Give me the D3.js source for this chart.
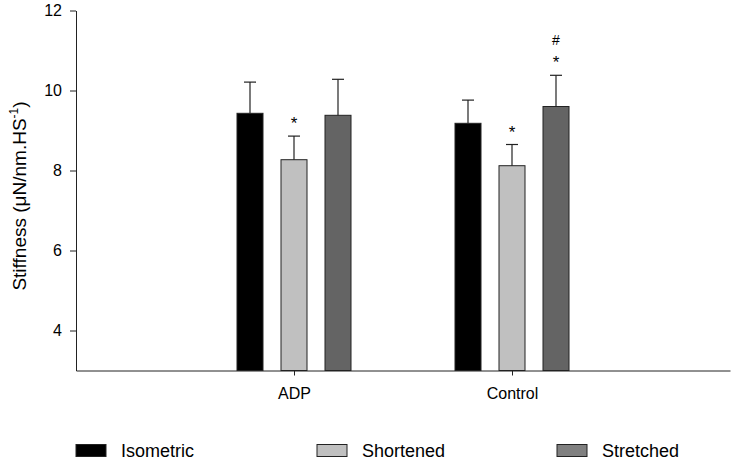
<!DOCTYPE html>
<html>
<head>
<meta charset="utf-8">
<script src="https://cdn.jsdelivr.net/npm/d3@7"></script>
<style>
  body { margin: 0; background: #fff; }
  text { font-family: "Liberation Sans", Arial, sans-serif; }
</style>
</head>
<body>
<script>
// chart size
let w = 735;
let h = 462;

// data
let groups = ["ADP", "Control"];
let series = ["Isometric", "Shortened", "Stretched"];
let adpMeans = [9.43, 8.27, 9.38];
let adpErrors = [0.78, 0.59, 0.9];
let controlMeans = [9.18, 8.12, 9.6];
let controlErrors = [0.58, 0.53, 0.78];
let yTicks = [4, 6, 8, 10, 12];
// significance marks: [group, series, symbols bottom-up]
let marks = [
    ["ADP", "Shortened", ["*"]],
    ["Control", "Shortened", ["*"]],
    ["Control", "Stretched", ["*", "#"]]
];

let fills = ["#000000", "#c0c0c0", "#646464"];
let legendFills = ["#000000", "#c0c0c0", "#808080"];

// flat table for the bars
let rows = [];
groups.forEach(function (g, gi) {
    let m = gi == 0 ? adpMeans : controlMeans;
    let e = gi == 0 ? adpErrors : controlErrors;
    series.forEach(function (s, si) {
        rows.push({ group: g, series: s, value: m[si], err: e[si], gx: gi + 1 });
    });
});

let svg = d3.select("body").append("svg")
    .attr("width", w)
    .attr("height", h);

// scales
let x = d3.scaleLinear().domain([0, 3]).range([76, 730]);
let x1 = d3.scaleBand().domain(series).range([-66, 66])
    .paddingInner(18 / 44).paddingOuter(9 / 44);
let y = d3.scaleLinear().domain([3, 12]).range([370.5, 10.5]);
let color = d3.scaleOrdinal().domain(series).range(fills);

// bars
svg.append("g").selectAll("rect").data(rows).enter().append("rect")
    .attr("x", d => x(d.gx) + x1(d.series))
    .attr("y", d => y(d.value))
    .attr("width", x1.bandwidth())
    .attr("height", d => y(3) - y(d.value))
    .attr("fill", d => color(d.series))
    .attr("stroke", "#222")
    .attr("stroke-width", 1);

// error bars (upper only)
let eb = svg.append("g").attr("stroke", "#222").attr("stroke-width", 1.2);
rows.forEach(function (d) {
    let cx = x(d.gx) + x1(d.series) + x1.bandwidth() / 2;
    eb.append("line")
        .attr("x1", cx).attr("x2", cx)
        .attr("y1", y(d.value)).attr("y2", y(d.value + d.err));
    eb.append("line")
        .attr("x1", cx - 6).attr("x2", cx + 6)
        .attr("y1", y(d.value + d.err)).attr("y2", y(d.value + d.err));
});

// significance symbols
marks.forEach(function (m) {
    let d = rows.find(r => r.group == m[0] && r.series == m[1]);
    let cx = x(d.gx) + x1(d.series) + x1.bandwidth() / 2;
    let top = y(d.value + d.err);
    m[2].forEach(function (sym) {
        svg.append("text")
            .attr("x", cx)
            .attr("y", sym == "*" ? top - 7 : top - 30)
            .attr("text-anchor", "middle")
            .style("font-size", sym == "*" ? "17px" : "14px")
            .text(sym);
    });
});

// axes
let yAxis = svg.append("g")
    .attr("transform", "translate(" + x(0) + ",0)")
    .call(d3.axisLeft(y).tickValues(yTicks).tickSize(6).tickSizeOuter(0).tickPadding(8));
yAxis.selectAll("text").style("font-size", "16px").attr("fill", "#000");

let xAxis = svg.append("g")
    .attr("transform", "translate(0," + y(3) + ")")
    .call(d3.axisBottom(x).tickValues([1, 2]).tickFormat((d, i) => groups[i])
        .tickSize(5).tickSizeOuter(0).tickPadding(12));
xAxis.selectAll("text").style("font-size", "16px").attr("fill", "#000");

svg.selectAll(".domain, .tick line").attr("stroke", "#222");

// y title
svg.append("text")
    .attr("transform", "translate(26,196) rotate(-90)")
    .attr("text-anchor", "middle")
    .style("font-size", "19px")
    .html('Stiffness (\u03BCN/nm.HS<tspan dy="-8" font-size="12px">-1</tspan><tspan dy="8">)</tspan>');

// legend
let legendX = [76, 317, 557];
series.forEach(function (s, i) {
    svg.append("rect")
        .attr("x", legendX[i]).attr("y", 444.5)
        .attr("width", 30).attr("height", 12)
        .attr("fill", legendFills[i])
        .attr("stroke", "#222").attr("stroke-width", 1);
    svg.append("text")
        .attr("x", legendX[i] + 45).attr("y", 457)
        .style("font-size", "18px")
        .text(s);
});
</script>
</body>
</html>
